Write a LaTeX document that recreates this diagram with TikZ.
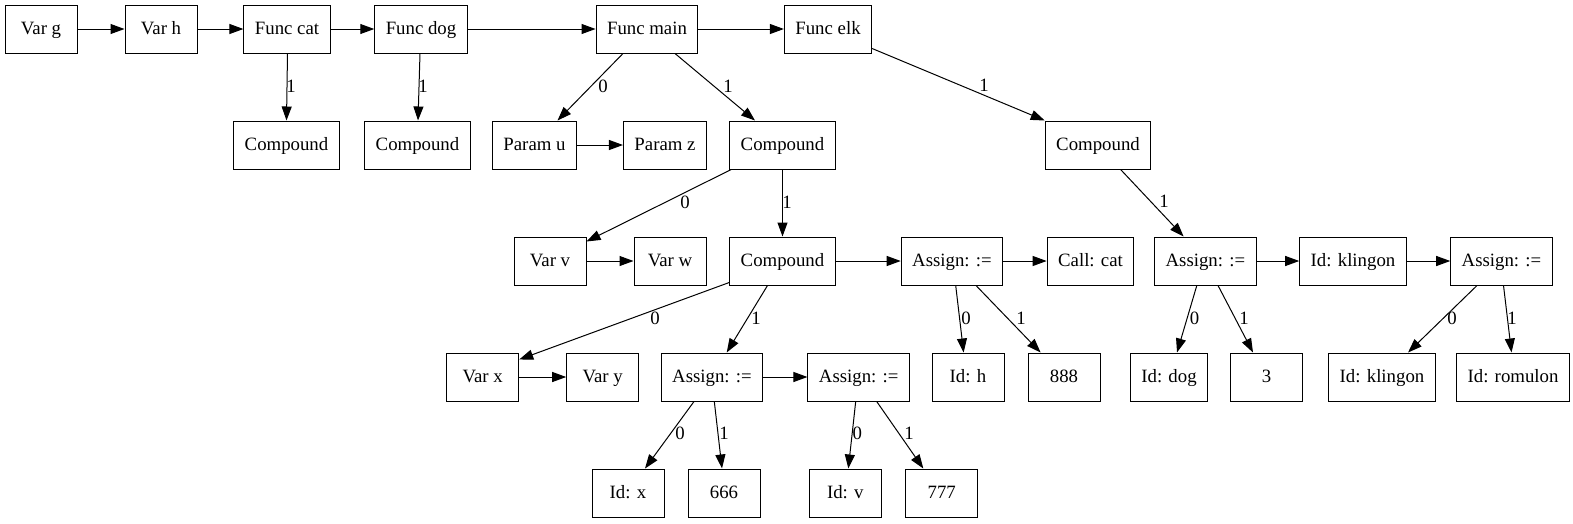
\documentclass[tikz,border=0pt]{standalone}
\usepackage{fontspec}
\setmainfont{Liberation Serif}
\usetikzlibrary{arrows.meta}
\begin{document}
\begin{tikzpicture}[x=1pt,y=-1pt,
  box/.style={draw, line width=1pt, minimum height=48pt, minimum width=72pt, inner xsep=11pt, inner ysep=0pt,
    text height=14pt, text depth=4pt, font=\fontsize{18.8}{20}\selectfont},
  edge/.style={line width=1pt, -{Triangle[length=14pt,width=10pt]}},
  lbl/.style={font=\fontsize{18.8}{20}\selectfont, inner sep=0pt}]
\useasboundingbox (0,0) rectangle (1573,523);
% row 1
\node[box] (vg) at (41,29) {Var g};
\node[box] (vh) at (161,29) {Var h};
\node[box] (fcat) at (287,29) {Func cat};
\node[box] (fdog) at (421,29) {Func dog};
\node[box] (fmain) at (647,29) {Func main};
\node[box] (felk) at (828,29) {Func elk};
% row 2
\node[box] (c1) at (286.5,145) {Compound};
\node[box] (c2) at (417.5,145) {Compound};
\node[box] (pu) at (534.5,145) {Param u};
\node[box] (pz) at (665,145) {Param z};
\node[box] (cm) at (782.5,145) {Compound};
\node[box] (ce) at (1098,145) {Compound};
% row 3
\node[box] (vv) at (550,261) {Var v};
\node[box] (vw) at (670,261) {Var w};
\node[box] (c3) at (782.5,261) {Compound};
\node[box] (a1) at (952,261) {Assign: :=};
\node[box] (call) at (1090.5,261) {Call: cat};
\node[box] (a2) at (1205.4,261) {Assign: :=};
\node[box] (idk) at (1353,261) {Id: klingon};
\node[box] (a3) at (1501.5,261) {Assign: :=};
% row 4
\node[box] (vx) at (482.7,377) {Var x};
\node[box] (vy) at (602.7,377) {Var y};
\node[box] (a4) at (712,377) {Assign: :=};
\node[box] (a5) at (858.7,377) {Assign: :=};
\node[box] (idh) at (968,377) {Id: h};
\node[box] (n888) at (1064,377) {888};
\node[box] (iddog) at (1169,377) {Id: dog};
\node[box] (n3) at (1266.5,377) {3};
\node[box] (idk2) at (1382,377) {Id: klingon};
\node[box] (idr) at (1513,377) {Id: romulon};
% row 5
\node[box] (idx) at (628,493) {Id: x};
\node[box] (n666) at (724,493) {666};
\node[box] (idv) at (845.3,493) {Id: v};
\node[box] (n777) at (941.7,493) {777};
% horizontal edges
\draw[edge] (vg) -- (vh);
\draw[edge] (vh) -- (fcat);
\draw[edge] (fcat) -- (fdog);
\draw[edge] (fdog) -- (fmain);
\draw[edge] (fmain) -- (felk);
\draw[edge] (pu) -- (pz);
\draw[edge] (vv) -- (vw);
\draw[edge] (c3) -- (a1);
\draw[edge] (a1) -- (call);
\draw[edge] (a2) -- (idk);
\draw[edge] (idk) -- (a3);
\draw[edge] (vx) -- (vy);
\draw[edge] (a4) -- (a5);
% tree edges
\draw[edge] ([xshift=0.5pt]fcat.south) -- (c1.north) node[lbl] at (291,86) {1};
\draw[edge] ([xshift=-1pt]fdog.south) -- ([xshift=0.5pt]c2.north) node[lbl] at (423,86) {1};
\draw[edge] ([xshift=-24pt]fmain.south) -- ([xshift=23pt]pu.north) node[lbl] at (603,86) {0};
\draw[edge] ([xshift=28pt]fmain.south) -- ([xshift=-27.5pt]cm.north) node[lbl] at (728,86) {1};
\draw[edge] ([yshift=5pt]felk.south east) -- (ce.north west) node[lbl] at (984,85) {1};
\draw[edge] ([xshift=2pt]cm.south west) -- ([yshift=-5pt]vv.north east) node[lbl] at (685,202) {0};
\draw[edge] (cm.south) -- (c3.north) node[lbl] at (787,202) {1};
\draw[edge] ([xshift=22.6pt]ce.south) -- ([xshift=-21.8pt]a2.north) node[lbl] at (1164,201) {1};
\draw[edge] ([yshift=3pt]c3.south west) -- ([yshift=-7pt]vx.north east) node[lbl] at (655,318) {0};
\draw[edge] ([xshift=-15pt]c3.south) -- ([xshift=14.7pt]a4.north) node[lbl] at (756,318) {1};
\draw[edge] ([xshift=3.7pt]a1.south) -- ([xshift=-4.4pt]idh.north) node[lbl] at (966,318) {0};
\draw[edge] ([xshift=24pt]a1.south) -- ([xshift=-23.4pt]n888.north) node[lbl] at (1021,318) {1};
\draw[edge] ([xshift=-8.6pt]a2.south) -- ([xshift=8pt]iddog.north) node[lbl] at (1194.6,318) {0};
\draw[edge] ([xshift=12.6pt]a2.south) -- ([xshift=-13.5pt]n3.north) node[lbl] at (1244,318) {1};
\draw[edge] ([xshift=-24.5pt]a3.south) -- ([xshift=26pt]idk2.north) node[lbl] at (1452,318) {0};
\draw[edge] ([xshift=2pt]a3.south) -- ([xshift=-1.5pt]idr.north) node[lbl] at (1512,318) {1};
\draw[edge] ([xshift=-18pt]a4.south) -- ([xshift=17pt]idx.north) node[lbl] at (680,433) {0};
\draw[edge] ([xshift=2.3pt]a4.south) -- ([xshift=-2pt]n666.north) node[lbl] at (724,433) {1};
\draw[edge] ([xshift=-3pt]a5.south) -- ([xshift=3pt]idv.north) node[lbl] at (857.3,433) {0};
\draw[edge] ([xshift=18pt]a5.south) -- ([xshift=-18.4pt]n777.north) node[lbl] at (909,433) {1};
\end{tikzpicture}
\end{document}
